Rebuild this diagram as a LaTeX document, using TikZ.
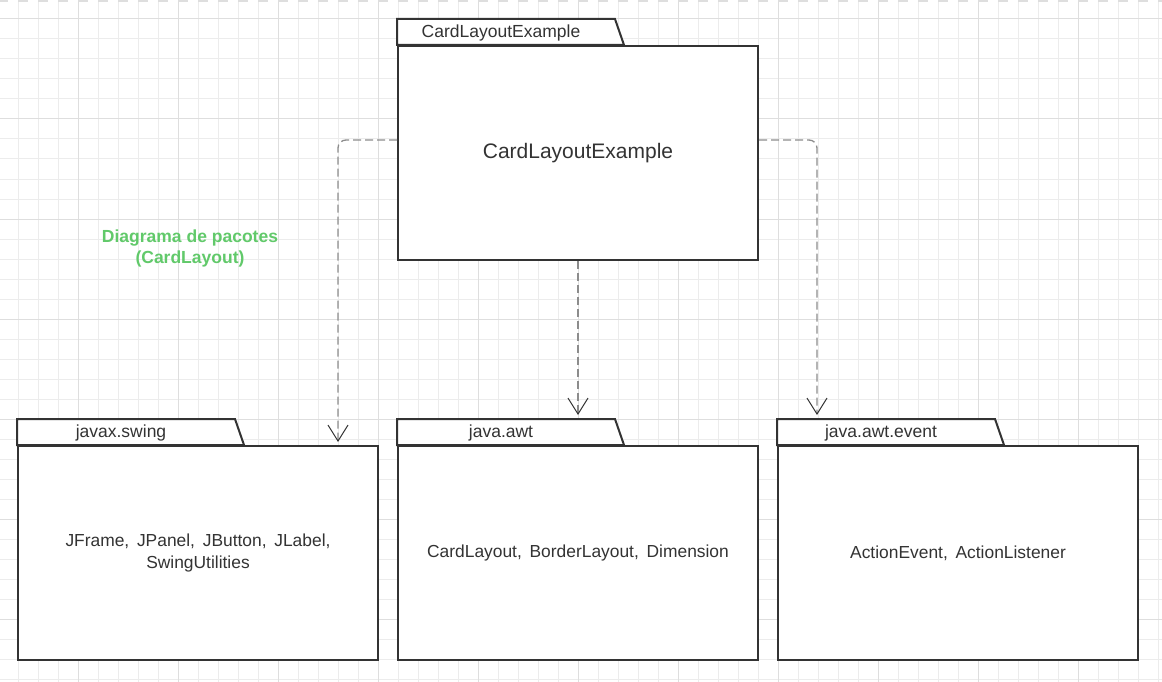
\documentclass[tikz,border=0pt]{standalone}
\usepackage{fontspec}
\setmainfont{Liberation Sans}
\usetikzlibrary{arrows.meta,calc}
\definecolor{gridminor}{RGB}{236,236,236}
\definecolor{gridmajor}{RGB}{222,222,222}
\definecolor{boxline}{RGB}{51,51,51}
\definecolor{depline}{RGB}{140,140,140}
\definecolor{notegreen}{RGB}{97,201,106}

\begin{document}
\begin{tikzpicture}[x=1pt, y=-1pt,
        pkg/.style={draw=boxline, line width=2pt, fill=white, minimum width=360pt, minimum height=214pt, inner sep=0pt, align=center, text=boxline, font=\fontsize{17.4}{22}\selectfont},
        pkgtab/.style={draw=boxline, line width=2pt, fill=white},
        tablabel/.style={text=boxline, inner sep=0pt, font=\fontsize{17.5}{21}\selectfont},
        note/.style={text=notegreen, align=center, font=\bfseries\fontsize{17.5}{21}\selectfont},
        dep/.style={draw=depline, line width=1.3pt, dash pattern=on 8pt off 4pt, rounded corners=8pt, -{Straight Barb[length=16pt, width=20pt, color=boxline, line width=1pt]}}]
                \useasboundingbox (0,0) rectangle (1162,682);
                \fill[white] (0,0) rectangle (1162,682);
                \foreach \gx in {18,38,...,1158}
                    \draw[gridminor, line width=1pt] (\gx,0) -- (\gx,682);
                \foreach \gy in {19,39,...,679}
                    \draw[gridminor, line width=1pt] (0,\gy) -- (1162,\gy);
                \foreach \gx in {78,178,...,1078}
                    \draw[gridmajor, line width=1pt] (\gx,0) -- (\gx,682);
                \foreach \gy in {19,119,...,619}
                    \draw[gridmajor, line width=1pt] (0,\gy) -- (1162,\gy);
                \draw[gridmajor, line width=2pt, dash pattern=on 10pt off 10pt, dash phase=2pt] (0,1) -- (1162,1);
                \node[pkg, font=\fontsize{21}{25}\selectfont] (main) at (578,153) {CardLayoutExample};
                \node[pkg] (swing) at (198,553) {JFrame,\, JPanel,\, JButton,\, JLabel,\\SwingUtilities};
                \node[pkg] (awt) at (578,553) {CardLayout,\, BorderLayout,\, Dimension};
                \node[pkg] (event) at (958,553) {ActionEvent,\, ActionListener};
                \foreach \p in {main,swing,awt,event}
                    \draw[pkgtab] (\p.north west) -- ++(0,-26) -- ++(218,0) -- ++(9,26) -- cycle;
                \node[tablabel] (main-tab) at ($(main.north west)+(104,-12)$) {CardLayoutExample};
                \node[tablabel] (swing-tab) at ($(swing.north west)+(104,-12)$) {javax.swing};
                \node[tablabel] (awt-tab) at ($(awt.north west)+(104,-12)$) {java.awt};
                \node[tablabel] (event-tab) at ($(event.north west)+(104,-12)$) {java.awt.event};
                \node[note] (title) at (190,248) {Diagrama de pacotes\\(CardLayout)};
                \coordinate (swing-in) at ($(swing.north east)+(-41,-3)$);
                \coordinate (awt-in) at ($(awt.north)+(0,-30)$);
                \coordinate (event-in) at ($(event.north west)+(40,-30)$);
                \draw[dep] ([yshift=13pt]main.west) -| (swing-in);
                \draw[dep] (main.south) -- (awt-in);
                \draw[dep] ([yshift=13pt]main.east) -| (event-in);
            \end{tikzpicture}
\end{document}
